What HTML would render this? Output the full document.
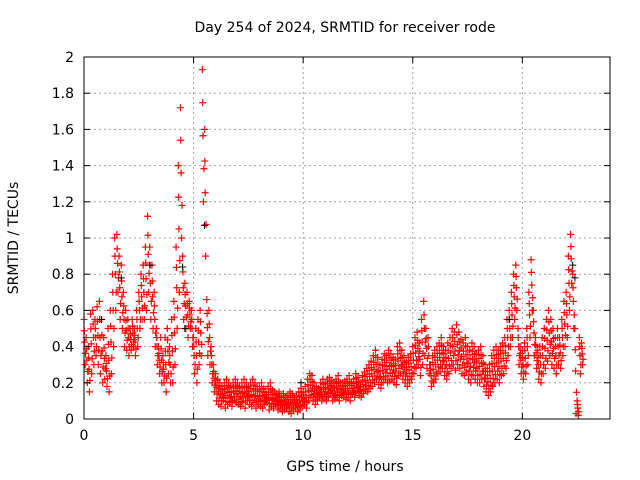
<!DOCTYPE html>
<html><head><meta charset="utf-8"><style>
body{margin:0;background:#fff;}
svg{display:block;font-family:"DejaVu Sans","Liberation Sans",sans-serif;}
</style></head><body>
<svg id="chart" width="640" height="480">
<text x="345" y="32" font-size="14" text-anchor="middle" fill="#000">Day 254 of 2024, SRMTID for receiver rode</text>
<text x="345" y="471" font-size="14" text-anchor="middle" fill="#000">GPS time / hours</text>
<text transform="translate(18,238) rotate(-90)" font-size="14" text-anchor="middle" fill="#000">SRMTID / TECUs</text>
<g id="grid"></g>
<g id="marks"></g>
<rect x="84" y="57" width="526" height="362" fill="none" stroke="#000" stroke-width="1"/>
<g id="ticks"></g>
</svg>
<script>
const xTicks=[0,5,10,15,20];
const yTicks=[0,0.2,0.4,0.6,0.8,1,1.2,1.4,1.6,1.8,2];
const yTickLabels=["0","0.2","0.4","0.6","0.8","1","1.2","1.4","1.6","1.8","2"];
const tStart=0, tStep=0.1;
const hiValues=[.55,.45,.4,.58,.6,.55,.62,.65,.55,.45,
.35,.5,.6,.8,1.0,1.02,.9,.85,.7,.6,
.55,.5,.55,.5,.6,.7,.8,.85,.95,1.12,
.95,.85,.7,.5,.4,.45,.35,.45,.5,.4,
.55,.65,.95,1.4,1.72,.9,.75,.7,.65,.6,
.45,.5,.55,.6,1.93,1.6,.66,.6,.4,.3,
.25,.22,.2,.18,.2,.22,.2,.18,.2,.22,
.2,.18,.2,.22,.2,.18,.2,.22,.2,.18,
.18,.2,.17,.15,.18,.2,.16,.15,.14,.15,
.12,.14,.12,.13,.15,.14,.12,.13,.15,.17,
.15,.18,.22,.25,.24,.2,.18,.17,.2,.22,
.2,.22,.23,.21,.2,.22,.24,.2,.2,.21,
.22,.24,.2,.22,.25,.23,.2,.24,.26,.28,
.3,.32,.35,.38,.34,.3,.33,.36,.35,.38,
.36,.34,.33,.4,.42,.38,.35,.32,.34,.36,
.4,.45,.48,.42,.55,.65,.5,.45,.3,.35,
.38,.4,.42,.45,.4,.38,.42,.45,.5,.48,
.52,.48,.44,.42,.45,.4,.38,.42,.4,.36,
.38,.4,.35,.3,.28,.3,.35,.38,.4,.38,
.4,.42,.45,.55,.6,.7,.8,.85,.5,.4,
.38,.42,.5,.7,.88,.6,.45,.38,.4,.45,
.5,.55,.6,.55,.5,.45,.5,.45,.55,.65,
.7,.9,1.02,.8,.5,.1,.45,.42];
const loValues=[.3,.2,.15,.25,.3,.35,.3,.25,.2,.22,
.18,.15,.25,.4,.6,.7,.55,.5,.4,.38,
.35,.38,.4,.35,.4,.5,.55,.55,.6,.7,
.55,.5,.4,.3,.25,.2,.2,.15,.25,.2,
.2,.3,.5,.7,1.0,.55,.5,.45,.5,.4,
.25,.2,.3,.35,1.2,.9,.35,.3,.2,.15,
.1,.08,.07,.1,.06,.08,.09,.07,.1,.09,
.08,.07,.09,.06,.1,.08,.07,.09,.06,.08,
.07,.06,.08,.09,.05,.07,.06,.08,.05,.06,
.04,.05,.06,.04,.03,.05,.06,.04,.05,.07,
.08,.06,.1,.12,.1,.08,.1,.12,.1,.11,
.1,.12,.14,.1,.11,.12,.1,.13,.12,.11,
.12,.1,.14,.12,.15,.13,.12,.14,.16,.15,
.17,.18,.2,.22,.19,.17,.2,.22,.2,.21,
.22,.2,.19,.24,.25,.22,.2,.18,.2,.22,
.25,.28,.3,.24,.3,.35,.28,.25,.18,.2,
.22,.25,.26,.28,.24,.22,.25,.28,.3,.27,
.3,.28,.25,.24,.26,.22,.2,.24,.22,.2,
.2,.22,.18,.15,.13,.15,.18,.2,.22,.2,
.24,.25,.28,.35,.4,.45,.55,.6,.3,.25,
.22,.25,.3,.45,.6,.35,.28,.22,.2,.25,
.28,.32,.35,.3,.28,.25,.3,.28,.35,.4,
.45,.6,.75,.5,.03,.02,.25,.3];
const blackTimes=[0.8,1.7,3.0,4.5,4.6,5.5,9.9,19.4,22.3,22.4];
const blackValues=[0.55,0.78,0.85,0.84,0.5,1.07,0.2,0.55,0.85,0.78];

const NS="http://www.w3.org/2000/svg";
const X0=84,X1=610,Y0=419,Y1=57,XMAX=24,YMAX=2;
function xs(t){return X0+(X1-X0)*t/XMAX;}
function ys(v){return Y0-(Y0-Y1)*v/YMAX;}
const grid=document.getElementById('grid'),ticks=document.getElementById('ticks'),marks=document.getElementById('marks');
function mk(tag,attrs,parent){const e=document.createElementNS(NS,tag);for(const k in attrs)e.setAttribute(k,attrs[k]);parent.appendChild(e);return e;}
yTicks.forEach((v,i)=>{
  const y=ys(v);
  if(i>0&&i<yTicks.length-1){const g=mk('line',{x1:X0,x2:X1,y1:y,y2:y,stroke:'#a0a0a0','stroke-dasharray':'2,3'},grid);
  
  }
  const t=mk('text',{x:X0-10,y:y+5,'font-size':14,'text-anchor':'end'},ticks);t.textContent=yTickLabels[i];
  
  
  mk('line',{x1:X0,x2:X0+6,y1:y,y2:y,stroke:'#000'},ticks);
  mk('line',{x1:X1,x2:X1-6,y1:y,y2:y,stroke:'#000'},ticks);
});
xTicks.forEach(v=>{
  const x=xs(v);
  if(v>0){const g=mk('line',{x1:x,x2:x,y1:Y0,y2:Y1,stroke:'#a0a0a0','stroke-dasharray':'2,3'},grid);
  
  }
  const t=mk('text',{x:x,y:Y0+21,'font-size':14,'text-anchor':'middle'},ticks);t.textContent=String(v);
  
  
  mk('line',{x1:x,x2:x,y1:Y0,y2:Y0-6,stroke:'#000'},ticks);
  mk('line',{x1:x,x2:x,y1:Y1,y2:Y1+6,stroke:'#000'},ticks);
});
function plus(t,v){const x=xs(t),y=ys(v);return `M${x-3.5},${y}h7M${x},${y-3.5}v7`;}
let d='';
hiValues.forEach((v,i)=>{
  const t=tStart+i*tStep, lo=loValues[i];
  d+=plus(t,v)+plus(t+0.05,lo)+plus(t+0.03,(v+lo)/2)+plus(t+0.07,(v+3*lo)/4)+plus(t+0.015,(3*v+lo)/4);
});
const p=mk('path',{d:d,stroke:'#ff0000','stroke-width':1.2,fill:'none'},marks);


let db='';
blackTimes.forEach((t,i)=>{db+=plus(t,blackValues[i]);});
const pb=mk('path',{d:db,stroke:'#000','stroke-width':1,fill:'none'},marks);


</script>
</body></html>
